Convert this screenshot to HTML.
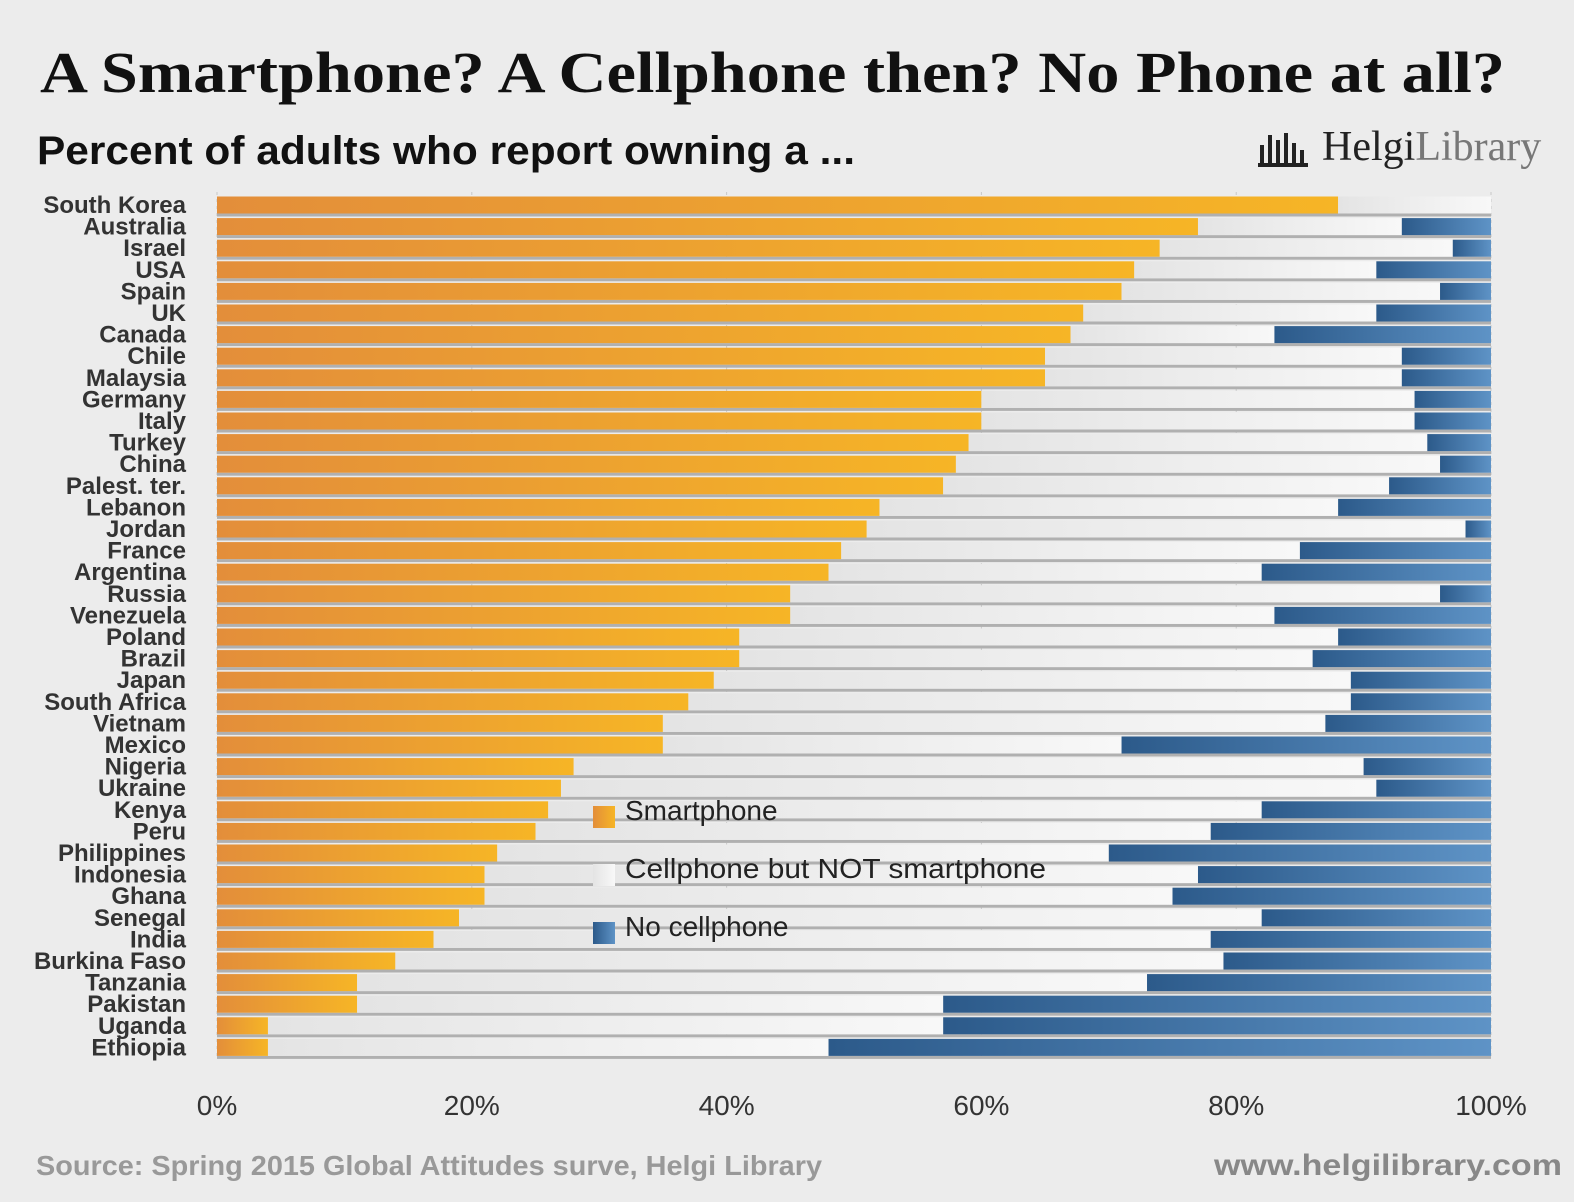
<!DOCTYPE html>
<html><head><meta charset="utf-8"><style>
body{margin:0;background:#ececec;}
svg{display:block;}
</style></head><body>
<svg id="chart" width="1574" height="1202" xmlns="http://www.w3.org/2000/svg">
<defs>
<linearGradient id="gO" x1="0" x2="1"><stop offset="0" stop-color="#e38e3a"/><stop offset="1" stop-color="#f6b526"/></linearGradient>
<linearGradient id="gB" x1="0" x2="1"><stop offset="0" stop-color="#2c5a8a"/><stop offset="1" stop-color="#5e93c6"/></linearGradient>
<linearGradient id="gG" x1="0" x2="1"><stop offset="0" stop-color="#e4e4e4"/><stop offset="1" stop-color="#f8f8f8"/></linearGradient>
</defs>
<rect width="1574" height="1202" fill="#ececec"/>
<text x="40" y="92" textLength="1465" lengthAdjust="spacingAndGlyphs" font-family="Liberation Serif, serif" font-weight="bold" font-size="58" fill="#111">A Smartphone? A Cellphone then? No Phone at all?</text>
<text x="37" y="164" textLength="818" lengthAdjust="spacingAndGlyphs" font-family="Liberation Sans, sans-serif" font-weight="bold" font-size="40" fill="#111">Percent of adults who report owning a ...</text>
<g>
<path d="M1258 165 h50 M1262 165 v-20 M1270 165 v-30 M1278 165 v-25 M1286 165 v-32 M1294 165 v-22 M1302 165 v-15" stroke="#222" stroke-width="4"/>
<text x="1322" y="160" font-family="Liberation Serif, serif" font-size="42" fill="#222">Helgi<tspan fill="#777">Library</tspan></text>
</g>
<g id="grid"></g>
<g id="bars"></g>
<g id="labels"></g>
<g id="xaxis"></g>
<g>
<rect x="593" y="806" width="22" height="22" fill="url(#gO)"/>
<text x="625" y="820" font-family="Liberation Sans, sans-serif" font-size="28" fill="#222">Smartphone</text>
<rect x="593" y="864" width="22" height="22" fill="url(#gG)"/>
<text x="625" y="878" textLength="421" lengthAdjust="spacingAndGlyphs" font-family="Liberation Sans, sans-serif" font-size="28" fill="#222">Cellphone but NOT smartphone</text>
<rect x="593" y="922" width="22" height="22" fill="url(#gB)"/>
<text x="625" y="936" font-family="Liberation Sans, sans-serif" font-size="28" fill="#222">No cellphone</text>
</g>
<text x="36" y="1175" textLength="786" lengthAdjust="spacingAndGlyphs" font-family="Liberation Sans, sans-serif" font-weight="bold" font-size="28" fill="#999">Source: Spring 2015 Global Attitudes surve, Helgi Library</text>
<text x="1214" y="1175" textLength="348" lengthAdjust="spacingAndGlyphs" font-family="Liberation Sans, sans-serif" font-weight="bold" font-size="30" fill="#888">www.helgilibrary.com</text>
</svg>
<script>
const countries=["South Korea","Australia","Israel","USA","Spain","UK","Canada","Chile","Malaysia","Germany","Italy","Turkey","China","Palest. ter.","Lebanon","Jordan","France","Argentina","Russia","Venezuela","Poland","Brazil","Japan","South Africa","Vietnam","Mexico","Nigeria","Ukraine","Kenya","Peru","Philippines","Indonesia","Ghana","Senegal","India","Burkina Faso","Tanzania","Pakistan","Uganda","Ethiopia"];
const smartphone=[88,77,74,72,71,68,67,65,65,60,60,59,58,57,52,51,49,48,45,45,41,41,39,37,35,35,28,27,26,25,22,21,21,19,17,14,11,11,4,4];
const noCellphone=[0,7,3,9,4,9,17,7,7,6,6,5,4,8,12,2,15,18,4,17,12,14,11,11,13,29,10,9,18,22,30,23,25,18,22,21,27,43,43,52];
const xTicks=[0,20,40,60,80,100];
const NS="http://www.w3.org/2000/svg";
const x0=217,x1=1491,yTop=205,step=21.6,bh=17;
const xs=v=>x0+(x1-x0)*v/100;
const ys=i=>yTop+i*step;
function mk(t,a,p){const e=document.createElementNS(NS,t);for(const k in a)e.setAttribute(k,a[k]);p.appendChild(e);return e;}
const grid=document.getElementById('grid'),bars=document.getElementById('bars'),labels=document.getElementById('labels'),xaxis=document.getElementById('xaxis');
xTicks.forEach(t=>{
 const l=mk('line',{x1:xs(t),x2:xs(t),y1:192,y2:1060,stroke:'#c8c8c8','stroke-dasharray':'3,4'},grid);
 
 
 const tx=mk('text',{x:xs(t),y:1115,'text-anchor':'middle','font-family':'Liberation Sans, sans-serif','font-size':'28',fill:'#333'},xaxis);
 tx.textContent=t+'%';
 
 
});
countries.forEach((c,i)=>{
 const y=ys(i)-bh/2,s=smartphone[i],n=noCellphone[i],g=100-s-n;
 const sh=mk('rect',{x:x0,y:y+bh,width:x1-x0,height:3,fill:'#b0b0b0'},bars);
 
 
 const r1=mk('rect',{x:xs(0),y:y,width:xs(s)-xs(0),height:bh,fill:'url(#gO)'},bars);
 
 
 const r2=mk('rect',{x:xs(s),y:y,width:xs(s+g)-xs(s),height:bh,fill:'url(#gG)'},bars);
 
 
 const r3=mk('rect',{x:xs(s+g),y:y,width:xs(100)-xs(s+g),height:bh,fill:'url(#gB)'},bars);
 
 
 const t=mk('text',{x:186,y:ys(i)+8,'text-anchor':'end','font-family':'Liberation Sans, sans-serif','font-weight':'bold','font-size':'24',fill:'#333'},labels);
 t.textContent=c;
 
 
});
</script>
</body></html>
